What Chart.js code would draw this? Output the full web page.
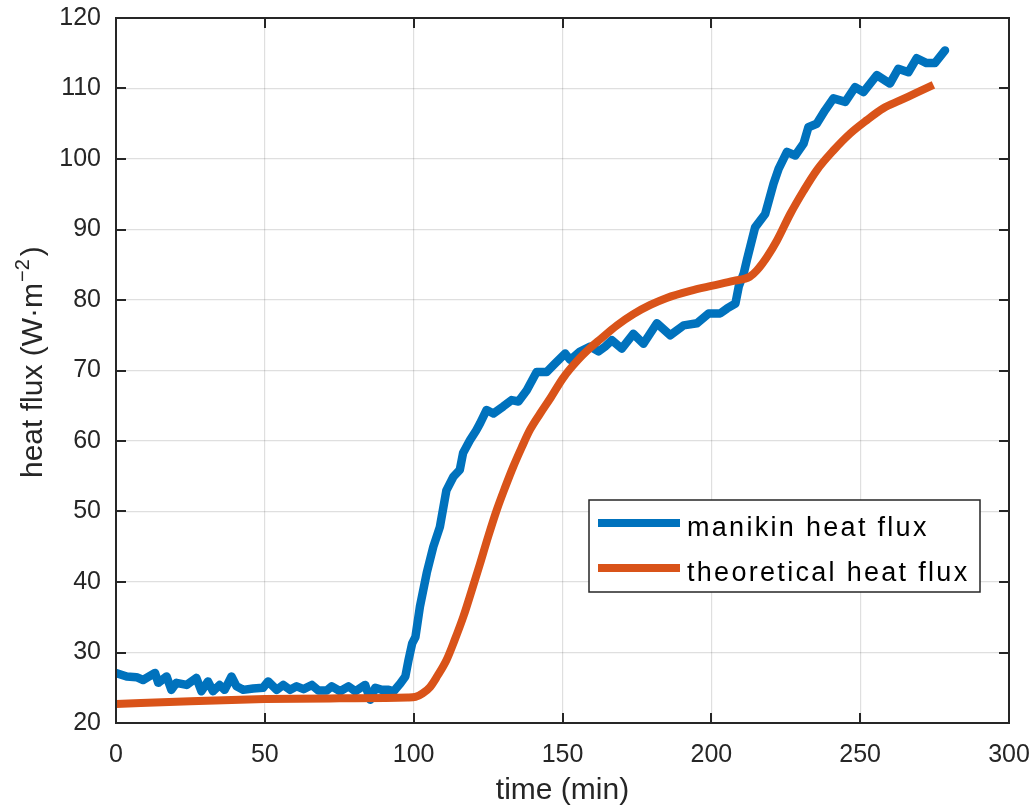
<!DOCTYPE html>
<html>
<head>
<meta charset="utf-8">
<script src="https://cdn.jsdelivr.net/npm/chart.js@4/dist/chart.umd.min.js"></script>
<style>
  html, body { margin: 0; padding: 0; background: #ffffff; }
  #wrap { width: 1036px; height: 809px; position: relative; }
  canvas { display: block; }
</style>
</head>
<body>
<div id="wrap"><canvas id="c" width="1036" height="809"></canvas></div>
<script>
// ---- data ----
const seriesLabels = ['manikin heat flux', 'theoretical heat flux'];

const manikinTime = [0, 3.6, 6.9, 9.1, 13.1, 14.2, 17, 18.6, 20.3, 23.7, 27, 28.7, 30.9, 32.6, 34.8, 36.5, 38.8, 40.5, 42.7, 46.1, 49.4, 51.1, 54, 56.2, 58.5, 60.7, 63, 65.8, 68, 70.8, 72.5, 75.3, 78.1, 80.4, 83.7, 85.4, 87.1, 89.3, 91.6, 93.3, 95.5, 97.2, 98.3, 99.5, 100.6, 102.1, 104.4, 106.6, 108.8, 111, 113.3, 115.5, 116.6, 118.9, 121, 122.3, 124.5, 126.8, 130.1, 132.9, 135.2, 138, 141.3, 144.7, 147.5, 150.9, 152.6, 155.9, 159.3, 162.1, 164.3, 166.6, 169.9, 173.8, 177.2, 181.7, 186.2, 190.7, 195.2, 199.1, 203, 205.3, 208.1, 209.2, 210.9, 211.9, 214.7, 218.1, 220.9, 222.6, 225.4, 228.2, 231, 232.6, 235.4, 238.2, 241, 245, 248.3, 251.1, 255.6, 260, 262.8, 266.2, 269, 272.3, 275.1, 278.5];
const manikinFlux = [27.1, 26.6, 26.5, 26.1, 27.1, 25.7, 26.6, 24.7, 25.7, 25.4, 26.4, 24.5, 25.9, 24.5, 25.4, 24.7, 26.6, 25.2, 24.7, 24.9, 25.0, 25.9, 24.7, 25.4, 24.7, 25.2, 24.8, 25.4, 24.6, 24.6, 25.2, 24.5, 25.2, 24.5, 25.4, 23.3, 25.0, 24.7, 24.7, 24.5, 25.6, 26.6, 29, 31.3, 32.2, 36.5, 41.3, 45, 47.8, 53, 54.9, 55.9, 58.3, 60.1, 61.5, 62.5, 64.4, 63.9, 64.9, 65.8, 65.6, 67.2, 69.8, 69.8, 71, 72.4, 71.5, 72.7, 73.4, 72.7, 73.4, 74.3, 73.1, 75.2, 73.8, 76.7, 75.0, 76.4, 76.7, 78.1, 78.1, 78.8, 79.5, 81.9, 83.8, 85.6, 90.3, 92.2, 96.5, 98.6, 101, 100.5, 102.2, 104.5, 105, 106.9, 108.6, 108.1, 110.2, 109.5, 111.9, 110.7, 112.8, 112.3, 114.3, 113.6, 113.6, 115.4];

const theoryTime = [0, 25, 50, 75, 98, 100.6, 103, 105.5, 108, 111, 113.8, 116.7, 119.5, 122.3, 125, 127.9, 130.7, 133.5, 136.3, 139.1, 142.5, 145.8, 150.3, 155, 159.3, 162.6, 168.3, 173.8, 179.5, 185, 192.9, 200, 207.5, 212.9, 215.3, 218.7, 222, 226.5, 231, 235.4, 241, 246.6, 252.2, 257.8, 263.4, 269, 274.6];
const theoryFlux = [22.7, 23.1, 23.4, 23.5, 23.6, 23.7, 24.2, 25.1, 26.7, 28.9, 31.8, 35.1, 38.8, 42.6, 46.4, 50.2, 53.4, 56.4, 59.1, 61.6, 63.9, 66.0, 69.0, 71.4, 73.2, 74.4, 76.4, 78.0, 79.3, 80.3, 81.3, 82.0, 82.7, 83.3, 84.2, 86.1, 88.4, 92.2, 95.5, 98.4, 101.2, 103.6, 105.5, 107.2, 108.3, 109.4, 110.5];

const xLabel = 'time (min)';
const yLabelMain = 'heat flux (W\u00B7m';
const yLabelSup = '\u22122';
const yLabelEnd = ')';

// ---- styles ----
const BLUE = '#0072BD';
const ORANGE = '#D95319';
const INK = '#262626';
const FONT = "'Liberation Sans', Arial, Helvetica, sans-serif";

function toPoints(xs, ys) { return xs.map((x, i) => ({ x: x, y: ys[i] })); }

// box, inner ticks (MATLAB style)
const boxPlugin = {
  id: 'boxTicks',
  afterDatasetsDraw(chart) {
    const { ctx, chartArea: a, scales } = chart;
    ctx.save();
    ctx.strokeStyle = INK;
    ctx.lineWidth = 2;
    ctx.beginPath();
    scales.x.ticks.forEach(t => {
      const px = Math.round(scales.x.getPixelForValue(t.value));
      ctx.moveTo(px, a.bottom); ctx.lineTo(px, a.bottom - 10);
      ctx.moveTo(px, a.top); ctx.lineTo(px, a.top + 10);
    });
    scales.y.ticks.forEach(t => {
      const py = Math.round(scales.y.getPixelForValue(t.value));
      ctx.moveTo(a.left, py); ctx.lineTo(a.left + 10, py);
      ctx.moveTo(a.right, py); ctx.lineTo(a.right - 10, py);
    });
    ctx.stroke();
    ctx.strokeRect(a.left, a.top, a.right - a.left, a.bottom - a.top);
    ctx.restore();
  }
};

// y-axis title with a real superscript
const yTitlePlugin = {
  id: 'yTitle',
  afterDraw(chart) {
    const { ctx } = chart;
    ctx.save();
    ctx.translate(42, 478);
    ctx.rotate(-Math.PI / 2);
    ctx.fillStyle = INK;
    ctx.textBaseline = 'alphabetic';
    ctx.textAlign = 'left';
    ctx.font = '30px ' + FONT;
    ctx.fillText(yLabelMain, 0, 0);
    let w = ctx.measureText(yLabelMain).width;
    ctx.font = '20px ' + FONT;
    ctx.fillText(yLabelSup, w + 1, -13);
    w += ctx.measureText(yLabelSup).width + 4;
    ctx.font = '30px ' + FONT;
    ctx.fillText(yLabelEnd, w, 0);
    ctx.restore();
  }
};

// legend box inside the axes (lower right)
const legendPlugin = {
  id: 'insideLegend',
  afterDraw(chart) {
    const { ctx } = chart;
    const bx = 589, by = 500, bw = 391, bh = 92;
    ctx.save();
    ctx.fillStyle = '#ffffff';
    ctx.fillRect(bx, by, bw, bh);
    ctx.strokeStyle = INK;
    ctx.lineWidth = 1.5;
    ctx.strokeRect(bx, by, bw, bh);
    const rows = [523, 568];
    chart.data.datasets.forEach((ds, i) => {
      const y = rows[i];
      ctx.strokeStyle = ds.borderColor;
      ctx.lineWidth = 8;
      ctx.lineCap = 'butt';
      ctx.beginPath(); ctx.moveTo(598, y); ctx.lineTo(680, y); ctx.stroke();
      ctx.fillStyle = '#000000';
      ctx.font = '27px ' + FONT;
      if ('letterSpacing' in ctx) ctx.letterSpacing = '2.3px';
      ctx.textBaseline = 'alphabetic';
      ctx.textAlign = 'left';
      ctx.fillText(ds.label, 687, y + 13);
    });
    ctx.restore();
  }
};

new Chart(document.getElementById('c'), {
  type: 'line',
  data: {
    datasets: [
      { label: seriesLabels[0], data: toPoints(manikinTime, manikinFlux), borderColor: BLUE, backgroundColor: BLUE,
        borderWidth: 8.5, pointRadius: 0, tension: 0, borderJoinStyle: 'round', borderCapStyle: 'round', order: 1 },
      { label: seriesLabels[1], data: toPoints(theoryTime, theoryFlux), borderColor: ORANGE, backgroundColor: ORANGE,
        borderWidth: 8, pointRadius: 0, cubicInterpolationMode: 'monotone', borderJoinStyle: 'round', borderCapStyle: 'butt', order: 0 }
    ]
  },
  options: {
    responsive: false,
    animation: false,
    devicePixelRatio: 1,
    layout: { padding: { left: 0, right: 27, top: 18, bottom: 0 } },
    plugins: { legend: { display: false }, tooltip: { enabled: false } },
    scales: {
      x: {
        type: 'linear', min: 0, max: 300,
        ticks: { stepSize: 50, color: INK, font: { family: FONT, size: 25 }, padding: 17, maxRotation: 0 },
        grid: { color: 'rgba(38,38,38,0.15)', lineWidth: 1.2, drawTicks: false },
        border: { display: false },
        title: { display: true, text: xLabel, color: INK, font: { family: FONT, size: 30 }, padding: { top: 0, bottom: 0 } },
        afterFit(s) { s.height = 86; s.paddingLeft = 0; s.paddingRight = 0; }
      },
      y: {
        type: 'linear', min: 20, max: 120,
        ticks: { stepSize: 10, color: INK, font: { family: FONT, size: 25 }, padding: 15 },
        grid: { color: 'rgba(38,38,38,0.15)', lineWidth: 1.2, drawTicks: false },
        border: { display: false },
        title: { display: false },
        afterFit(s) { s.width = 116; s.paddingTop = 0; s.paddingBottom = 0; }
      }
    }
  },
  plugins: [boxPlugin, yTitlePlugin, legendPlugin]
});
</script>
</body>
</html>
